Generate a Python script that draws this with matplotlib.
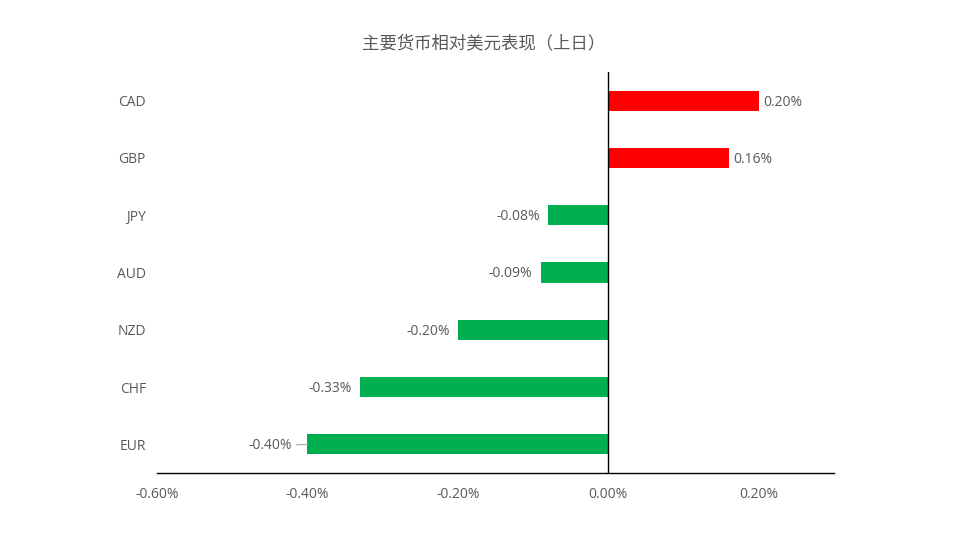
import matplotlib
matplotlib.use("Agg")
import matplotlib.pyplot as plt

plt.rcParams['font.family'] = ['Open Sans', 'Noto Sans CJK SC', 'DejaVu Sans']

currencies = ["EUR", "CHF", "NZD", "AUD", "JPY", "GBP", "CAD"]
changes = [-0.40, -0.33, -0.20, -0.09, -0.08, 0.16, 0.20]
tick_vals = [-0.6, -0.4, -0.2, 0.0, 0.2]
tick_labels = ["-0.60%", "-0.40%", "-0.20%", "0.00%", "0.20%"]
title = "主要货币相对美元表现（上日）"

txt = "#595959"
fig = plt.figure(figsize=(9.54, 5.39), dpi=100)
ax = fig.add_axes([0.1646, 0.1224, 0.7096, 0.744])

colors = ["#FF0000" if v > 0 else "#00B050" for v in changes]
ypos = list(range(len(currencies)))
ax.barh(ypos, changes, height=0.35, color=colors, zorder=2)

fs = 10
for y, v in zip(ypos, changes):
    lab = "%.2f%%" % v
    if v > 0:
        ax.annotate(lab, (v, y), xytext=(3, -1), textcoords="offset points",
                    ha="left", va="center", fontsize=fs, color=txt)
    elif v <= -0.4:
        # leader line for the longest bar
        ax.annotate(lab, (v, y), xytext=(-11, -1), textcoords="offset points",
                    ha="right", va="center", fontsize=fs, color=txt,
                    arrowprops=dict(arrowstyle="-", color="#A6A6A6", lw=0.8,
                                    shrinkA=1, shrinkB=0))
    else:
        ax.annotate(lab, (v, y), xytext=(-6, -1), textcoords="offset points",
                    ha="right", va="center", fontsize=fs, color=txt)

ax.set_xlim(-0.6, 0.3)
ax.set_ylim(-0.5, len(currencies) - 0.5)
ax.set_xticks(tick_vals)
ax.set_xticklabels(tick_labels)
ax.set_yticks(ypos)
ax.set_yticklabels(currencies)
ax.tick_params(axis="both", length=0, colors=txt, labelsize=fs)
ax.tick_params(axis="x", pad=10)
ax.tick_params(axis="y", pad=8)

for s in ["top", "right", "left"]:
    ax.spines[s].set_visible(False)
ax.spines["bottom"].set_color("black")
ax.spines["bottom"].set_linewidth(1.0)
ax.axvline(0, color="black", lw=1.0, zorder=3)

fig.text(0.507, 0.92, title, ha="center", va="center", fontsize=12.5,
         color=txt, family=["Noto Sans CJK SC", "DejaVu Sans"])

fig.savefig("out.png", dpi=100, facecolor="white")
